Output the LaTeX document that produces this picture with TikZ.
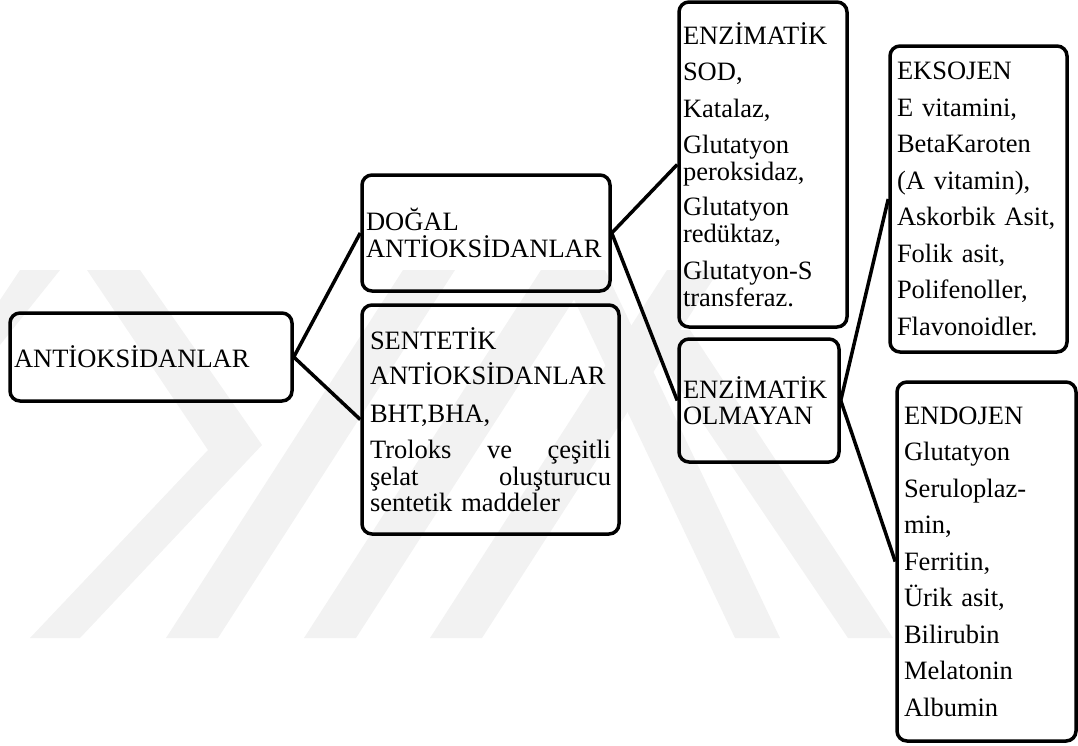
\documentclass[tikz,border=0pt]{standalone}
\usepackage{fontspec}
\setmainfont{Liberation Serif}

\tikzset{
    kutu/.style = {draw, line width = 3.5pt, rounded corners = 10pt, align = left,
            inner xsep = 4pt, inner ysep = 0pt,
            font = \rmfamily\fontsize{26.5}{26.5}\selectfont},
    bag/.style = {line width = 3.5pt},
    filigran/.style = {fill = black!5, draw = none},
}

\begin{document}
\begin{tikzpicture}[x = 1pt, y = -1pt]

        \useasboundingbox (0, 0) rectangle (1078, 745);

        % filigran (soluk arka plan)
        \fill[filigran] (87, 270) -- (140, 270) -- (262, 445) -- (80, 638) -- (30, 638) -- (208, 450) -- cycle;
        \fill[filigran] (0, 300) -- (20, 270) -- (60, 270) -- (0, 345) -- cycle;
        \foreach \i in {166, 304, 430} {
                \fill[filigran] (\i, 638) -- (\i + 52, 638) -- (\i + 289, 270) -- (\i + 237, 270) -- cycle;
            }
        \fill[filigran] (560, 270) -- (605, 270) -- (780, 638) -- (735, 638) -- cycle;
        \fill[filigran] (640, 330) -- (690, 330) -- (893, 638) -- (848, 638) -- cycle;

        \node[kutu, minimum width = 282pt, minimum height = 88pt, text width = 274pt] (anti) at (151, 357) {ANTİOKSİDANLAR};

        \node[kutu, minimum width = 248pt, minimum height = 116pt, text width = 240pt] (dogal) at (486, 233) {DOĞAL\\ANTİOKSİDANLAR};

        \node[kutu, inner xsep = 8pt, minimum width = 257pt, minimum height = 229pt, text width = 241pt] (sentetik) at (490.5, 419.5)
            {SENTETİK\\[9pt] ANTİOKSİDANLAR\\[11pt] BHT,BHA,\\[10pt] Troloks\hfill ve\hfill çeşitli\\ şelat\hfill oluşturucu\\ sentetik maddeler};

        \node[kutu, minimum width = 168pt, minimum height = 325pt, text width = 160pt] (enzim) at (763, 164.5)
            {ENZİMATİK\\[10pt] SOD,\\[10pt] Katalaz,\\[10pt] Glutatyon\\ peroksidaz,\\[9pt] Glutatyon\\ redüktaz,\\[11pt] Glutatyon-S\\ transferaz.};

        \node[kutu, minimum width = 160pt, minimum height = 123pt, text width = 152pt] (olmayan) at (759, 400.5) {ENZİMATİK\\OLMAYAN};

        \node[kutu, inner xsep = 7pt, minimum width = 177pt, minimum height = 306pt, text width = 163pt] (eksojen) at (978.5, 199)
            {EKSOJEN\\[10pt] E vitamini,\\[10pt] BetaKaroten\\[10pt] (A vitamin),\\[10pt] Askorbik Asit,\\[10pt] Folik asit,\\[10pt] Polifenoller,\\[10pt] Flavonoidler.};

        \node[kutu, inner xsep = 7pt, minimum width = 179pt, minimum height = 359pt, text width = 165pt] (endojen) at (986.5, 561.5)
            {ENDOJEN\\[10pt] Glutatyon\\[10pt] Seruloplaz-\\[10pt] min,\\[10pt] Ferritin,\\[10pt] Ürik asit,\\[10pt] Bilirubin\\[10pt] Melatonin\\[10pt] Albumin};

        \draw[bag] (anti.east) -- (dogal.west);
        \draw[bag] (anti.east) -- (sentetik.west);
        \draw[bag] (dogal.east) -- (enzim.west);
        \draw[bag] (dogal.east) -- (olmayan.west);
        \draw[bag] (olmayan.east) -- (eksojen.west);
        \draw[bag] (olmayan.east) -- (endojen.west);

\end{tikzpicture}
\end{document}
